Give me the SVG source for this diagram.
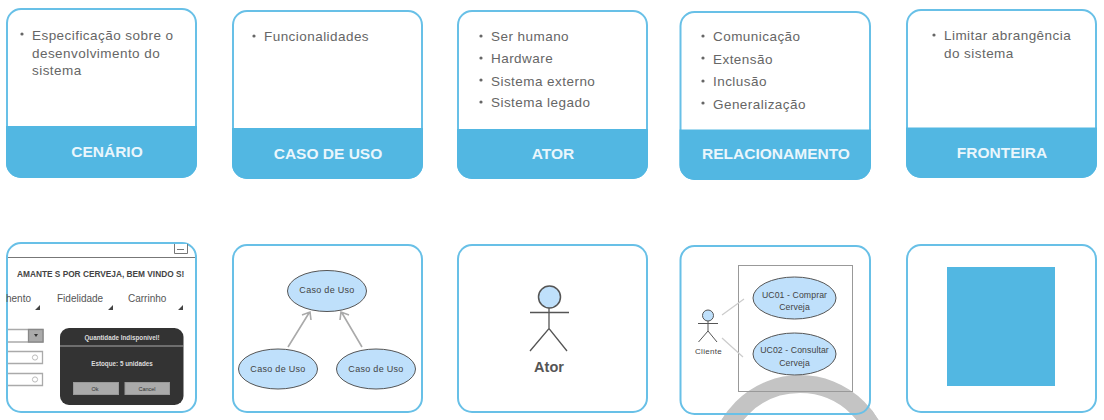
<svg xmlns="http://www.w3.org/2000/svg" width="1104" height="420" viewBox="0 0 1104 420">
<style>
text{font-family:"Liberation Sans",Arial,sans-serif}
.card{fill:#fff;stroke:#68c0e7;stroke-width:2}
.frame{fill:none;stroke:#68c0e7;stroke-width:2}
.head{fill:#52b7e2;stroke:#52b7e2;stroke-width:2}
.title{font-size:15.500px;font-weight:bold;fill:#eaf6fc;text-anchor:middle}
.item{font-size:13.500px;fill:#666;letter-spacing:.45px}
.bul{fill:#666}
.uc{fill:#bfe0fb;stroke:#555;stroke-width:1}
.ut{font-size:9px;fill:#444;text-anchor:middle;letter-spacing:.3px}
.ut2{font-size:8.700px;fill:#444;text-anchor:middle;letter-spacing:.1px}
.p{stroke:#555;stroke-width:1.300;fill:none}
.g{stroke:#aaa;stroke-width:1.600;fill:none}
.w{font-size:10px;fill:#555}
.wb{fill:#aaa;stroke:#999}
.f{fill:#fff;stroke:#aaa;stroke-width:1.300}
.arc{fill:none;stroke:#c4c4c4;stroke-width:18}
</style>
<g id="card-cenario"><rect class="card" x="7" y="9" width="189" height="168" rx="14"/><path class="head" d="M7 127H196V163a14 14 0 0 1-14 14H21a14 14 0 0 1-14-14Z"/><circle class="bul" cx="22" cy="34" r="1.600"/><text class="item" x="32" y="40">Especificação sobre o</text><text class="item" x="32" y="58">desenvolvimento do</text><text class="item" x="32" y="75">sistema</text><text class="title" x="107" y="157">CENÁRIO</text></g>
<g id="card-caso"><rect class="card" x="233" y="11" width="189" height="167" rx="14"/><path class="head" d="M233 129H422V164a14 14 0 0 1-14 14H247a14 14 0 0 1-14-14Z"/><circle class="bul" cx="254" cy="36" r="1.600"/><text class="item" x="264" y="41">Funcionalidades</text><text class="title" x="328" y="159">CASO DE USO</text></g>
<g id="card-ator"><rect class="card" x="458" y="11" width="189" height="167" rx="14"/><path class="head" d="M458 130H647V164a14 14 0 0 1-14 14H472a14 14 0 0 1-14-14Z"/><circle class="bul" cx="481" cy="36" r="1.600"/><text class="item" x="491" y="41">Ser humano</text><circle class="bul" cx="481" cy="58" r="1.600"/><text class="item" x="491" y="63">Hardware</text><circle class="bul" cx="481" cy="80" r="1.600"/><text class="item" x="491" y="86">Sistema externo</text><circle class="bul" cx="481" cy="102" r="1.600"/><text class="item" x="491" y="107">Sistema legado</text><text class="title" x="553" y="159">ATOR</text></g>
<g id="card-relacionamento"><rect class="card" x="680.500" y="12" width="189.500" height="167" rx="14"/><path class="head" d="M680.500 130.500H870V165a14 14 0 0 1-14 14H694.500a14 14 0 0 1-14-14Z"/><circle class="bul" cx="703" cy="36" r="1.600"/><text class="item" x="713" y="41">Comunicação</text><circle class="bul" cx="703" cy="58" r="1.600"/><text class="item" x="713" y="64">Extensão</text><circle class="bul" cx="703" cy="81" r="1.600"/><text class="item" x="713" y="86">Inclusão</text><circle class="bul" cx="703" cy="103" r="1.600"/><text class="item" x="713" y="109">Generalização</text><text class="title" x="776" y="159">RELACIONAMENTO</text></g>
<g id="card-fronteira"><rect class="card" x="907" y="10" width="189" height="167" rx="14"/><path class="head" d="M907 128.500H1096V163a14 14 0 0 1-14 14H921a14 14 0 0 1-14-14Z"/><circle class="bul" cx="934" cy="35" r="1.600"/><text class="item" x="944" y="40">Limitar abrangência</text><text class="item" x="944" y="58">do sistema</text><text class="title" x="1002" y="158">FRONTEIRA</text></g>
<circle id="arc" class="arc" cx="800" cy="466" r="82"/>
<g id="ex-cenario"><rect class="card" x="7" y="243" width="189" height="169" rx="14"/><path d="M8 257.500H195" stroke="#777" stroke-width="1"/><path d="M174.500 244V253.500H187.500V244" fill="#fff" stroke="#777"/><path d="M177 249.500H184" stroke="#777"/><text x="17" y="277" font-size="8.300" font-weight="bold" fill="#444">AMANTE S POR CERVEJA, BEM VINDO S!</text><text class="w" x="6" y="302">hento</text><text class="w" x="57" y="302">Fidelidade</text><text class="w" x="128" y="302">Carrinho</text><path d="M35 310h5v-5ZM108 310h5v-5ZM178 310h5v-5Z" fill="#444"/><path class="f" d="M8 329.500H43V342H8"/><rect x="28.500" y="329.500" width="14.500" height="12.500" fill="#aaa" stroke="#888" stroke-width="1.300"/><path d="M34 334h4l-2 3Z" fill="#333"/><path class="f" d="M8 351.500H42.500V363.500H8"/><circle cx="35" cy="357.500" r="2.600" fill="#fff" stroke="#bbb"/><path class="f" d="M8 373.500H42.500V385.500H8"/><circle cx="35" cy="379.500" r="2.600" fill="#fff" stroke="#bbb"/><rect x="60" y="328" width="123.500" height="77" rx="9" fill="#333"/><path d="M60 346H183.500" stroke="#aaa"/><text x="122" y="340" font-size="6.300" font-weight="bold" fill="#ddd" text-anchor="middle">Quantidade Indisponível!</text><text x="122" y="366" font-size="6.300" font-weight="bold" fill="#ddd" text-anchor="middle">Estoque: 5 unidades</text><rect class="wb" x="73.500" y="382.500" width="45" height="12"/><rect class="wb" x="125" y="382.500" width="44.500" height="12"/><text x="95" y="391" font-size="5.500" fill="#333" text-anchor="middle">Ok</text><text x="147" y="391" font-size="5.500" fill="#333" text-anchor="middle">Cancel</text></g>
<g id="ex-caso"><rect class="card" x="233" y="245" width="189" height="167" rx="14"/><ellipse class="uc" cx="327" cy="291" rx="39.500" ry="20.500"/><text class="ut" x="327" y="293">Caso de Uso</text><ellipse class="uc" cx="278" cy="369" rx="39.500" ry="20"/><text class="ut" x="278" y="372">Caso de Uso</text><ellipse class="uc" cx="376" cy="369" rx="39.500" ry="20"/><text class="ut" x="376" y="372">Caso de Uso</text></g>
<g id="ex-ator"><rect class="card" x="458" y="245" width="189" height="167" rx="14"/><circle cx="549.500" cy="297" r="11" fill="#bfe0fb" stroke="#555" stroke-width="1.500"/><path class="p" d="M530 312.500H569M549 308V328.500M530 351L549 328.500L567 351"/><text x="549" y="372" font-size="14.500" font-weight="bold" fill="#555" text-anchor="middle">Ator</text></g>
<g id="ex-relacionamento"><rect x="680.500" y="246" width="189.500" height="168" rx="14" fill="#fff"/><circle class="arc" cx="800" cy="466" r="82"/><rect x="680.500" y="246" width="189.500" height="168" rx="14" class="frame"/><rect x="738.500" y="265.500" width="114" height="126" fill="none" stroke="#999"/><ellipse class="uc" cx="794.500" cy="298" rx="41.500" ry="21"/><text class="ut2" x="794.500" y="298">UC01 - Comprar</text><text class="ut2" x="794.500" y="310">Cerveja</text><ellipse class="uc" cx="794.500" cy="354" rx="41.500" ry="21"/><text class="ut2" x="794.500" y="353">UC02 - Consultar</text><text class="ut2" x="794.500" y="366">Cerveja</text><circle cx="708" cy="315.500" r="5.500" fill="#bfe0fb" stroke="#555"/><path class="p" d="M698 323.500H718M708 321V331M698.500 342L708 331L717 342" style="stroke-width:1"/><text x="708.500" y="354" font-size="8" fill="#444" text-anchor="middle" letter-spacing=".3">Cliente</text></g>
<g id="ex-fronteira"><rect class="card" x="907" y="245" width="189" height="167" rx="14"/><rect x="947" y="267" width="108" height="119" fill="#52b7e2"/></g>
<g id="connectors"><path class="g" d="M288 347L309 313M302 315L310 312L311 320M362 347L342 313M349 315L341 312L340 320"/><path d="M722 315L744 299M722 338L743 357" stroke="#ccc" stroke-width="1.200" fill="none"/></g>
</svg>
